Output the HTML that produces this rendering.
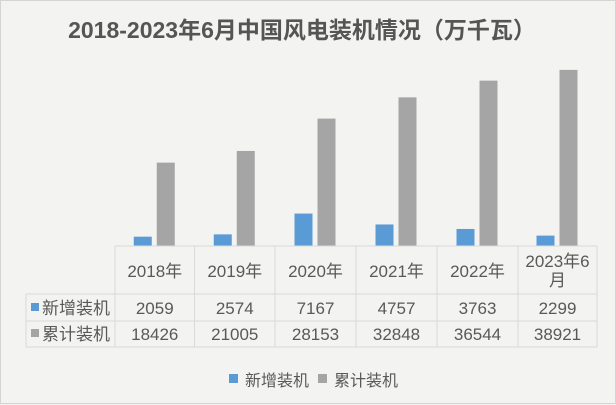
<!DOCTYPE html>
<html><head><meta charset="utf-8"><style>
body{margin:0;width:616px;height:405px;overflow:hidden;background:#f2f2f0;font-family:"Liberation Sans","Noto Sans CJK SC",sans-serif;}
#frame{position:absolute;left:0;top:0;width:614px;height:402px;border:1px solid #d4d4d4;background:#f3f3f1;}
</style></head><body>
<div id="frame"></div>
<svg id="chart" width="616" height="405" style="position:absolute;left:0;top:0">
<text x="302" y="38" text-anchor="middle" font-size="23" font-weight="bold" fill="#555" font-family="Liberation Sans, Noto Sans CJK SC, sans-serif">2018-2023年6月中国风电装机情况（万千瓦）</text>
</svg>
<script>
const categories=["2018年","2019年","2020年","2021年","2022年","2023年6月"];
const newInstalled=[2059,2574,7167,4757,3763,2299];
const cumulative=[18426,21005,28153,32848,36544,38921];
const seriesNames=["新增装机","累计装机"];
const NS="http://www.w3.org/2000/svg";
const svg=document.getElementById('chart');
const colX=[115,194.5,275,356,437,518,597];
const baseY=246, yMax=40000, plotH=181;
const yScale=v=>baseY-v/yMax*plotH;
const colors=["#5b9bd5","#a5a5a5"];
const font="Liberation Sans, Noto Sans CJK SC, sans-serif";
function mk(tag,attrs){const e=document.createElementNS(NS,tag);for(const k in attrs)e.setAttribute(k,attrs[k]);svg.appendChild(e);return e;}
categories.forEach((c,i)=>{
  const cx=(colX[i]+colX[i+1])/2;
  [newInstalled[i],cumulative[i]].forEach((v,s)=>{
    const x=s===0?cx-21:cx+2;
    const r=mk('rect',{x:x,y:yScale(v),width:18,height:baseY-yScale(v),fill:colors[s]});
    
    
  });
});
const lc="#d9d9d9";
mk('line',{x1:115,y1:246,x2:597,y2:246,stroke:lc});
[294,321,347].forEach(y=>mk('line',{x1:26,y1:y,x2:597,y2:y,stroke:lc}));
colX.forEach(x=>mk('line',{x1:x,y1:246,x2:x,y2:347,stroke:lc}));
mk('line',{x1:26,y1:294,x2:26,y2:347,stroke:lc});
const fs=17;
categories.forEach((c,i)=>{
  const cx=(colX[i]+colX[i+1])/2;
  if(c.length>5){
    const t=mk('text',{x:cx,y:267,'text-anchor':'middle','font-size':fs,fill:'#595959','font-family':font});t.textContent="2023年6";
    
    const t2=mk('text',{x:cx,y:286,'text-anchor':'middle','font-size':fs,fill:'#595959','font-family':font});t2.textContent="月";
    
  } else {
    const t=mk('text',{x:cx,y:277,'text-anchor':'middle','font-size':fs,fill:'#595959','font-family':font});t.textContent=c;
    
  }
  [newInstalled[i],cumulative[i]].forEach((v,s)=>{
    const t=mk('text',{x:cx,y:s===0?314:340,'text-anchor':'middle','font-size':fs,fill:'#595959','font-family':font});t.textContent=v;
    
    
  });
});
seriesNames.forEach((n,s)=>{
  const y=s===0?314:340;
  mk('rect',{x:31,y:y-11,width:8,height:8,fill:colors[s]});
  const t=mk('text',{x:42,y:y,'font-size':fs,fill:'#595959','font-family':font});t.textContent=n;
  
  
});
seriesNames.forEach((n,s)=>{
  const x=s===0?229:318;
  const r=mk('rect',{x:x,y:374,width:9,height:9,fill:colors[s]});
  
  
  const t=mk('text',{x:x+16,y:386,'font-size':16,fill:'#595959','font-family':font});t.textContent=n;
  
  
});
</script>
</body></html>
